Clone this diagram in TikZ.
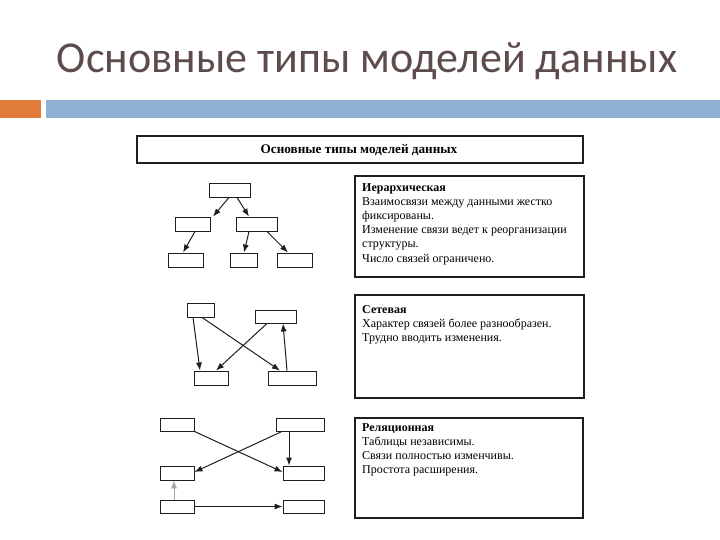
\documentclass[tikz,border=0pt]{standalone}
\usepackage{fontspec}
\setmainfont{Liberation Serif}
\newfontfamily\titlefont{Carlito}
\usetikzlibrary{arrows.meta}
\definecolor{titlecol}{HTML}{5E4B4B}
\definecolor{orangebar}{HTML}{E07B39}
\definecolor{bluebar}{HTML}{8FB0D0}
\definecolor{linecol}{HTML}{1E1E1E}
\tikzset{
  sbox/.style={draw=linecol, line width=0.9pt, inner sep=0pt, fill=white},
  frame/.style={draw=linecol, line width=1.4pt, inner sep=0pt},
  arr/.style={draw=linecol, line width=1pt, -{Latex[length=8pt,width=6pt]}},
  garr/.style={draw=gray!70, line width=0.7pt, -{Latex[length=8pt,width=6pt]}},
  desc/.style={anchor=north west, inner sep=0pt, align=left, text=black,
    font=\fontsize{12pt}{14.2pt}\selectfont},
}
\begin{document}
\begin{tikzpicture}[x=1pt,y=-1pt]
\useasboundingbox (0,0) rectangle (720,540);
\fill[white] (0,0) rectangle (720,540);
% title
\node[anchor=base, text=titlecol, inner sep=0pt] (title) at (367,73)
  {\resizebox{620pt}{!}{\titlefont Основные типы моделей данных}};
% bars
\fill[orangebar] (0,100) rectangle (41,118);
\fill[bluebar] (46,100) rectangle (720,118);
% header
\node[frame, minimum width=446pt, minimum height=27pt] (head) at (360,149.5) {};
\node[inner sep=0pt] (headtxt) at (359,150) {\fontsize{13.2pt}{15pt}\selectfont\bfseries Основные типы моделей данных};
% right frames
\node[frame, minimum width=229pt, minimum height=101pt] (f1) at (469.5,226.5) {};
\node[frame, minimum width=229pt, minimum height=103pt] (f2) at (469.5,346.5) {};
\node[frame, minimum width=228pt, minimum height=100pt] (f3) at (469,468) {};
\node[desc] (d1) at (362,183) {\textbf{Иерархическая}\\Взаимосвязи между данными жестко\\фиксированы.\\Изменение связи ведет к реорганизации\\структуры.\\Число связей ограничено.};
\node[desc] (d2) at (362,305) {\textbf{Сетевая}\\Характер связей более разнообразен.\\Трудно вводить изменения.};
\node[desc] (d3) at (362,423) {\textbf{Реляционная}\\Таблицы независимы.\\Связи полностью изменчивы.\\Простота расширения.};
% hierarchical
\node[sbox, minimum width=41pt, minimum height=14pt] (t1) at (229.5,190) {};
\node[sbox, minimum width=35pt, minimum height=14pt] (m1) at (192.5,224) {};
\node[sbox, minimum width=41pt, minimum height=14pt] (m2) at (256.5,224) {};
\node[sbox, minimum width=35pt, minimum height=14pt] (b1) at (185.5,260) {};
\node[sbox, minimum width=27pt, minimum height=14pt] (b2) at (243.5,260) {};
\node[sbox, minimum width=35pt, minimum height=14pt] (b3) at (294.5,260) {};
\draw[arr] ([xshift=-0.5pt]t1.south) -- ([xshift=20.5pt]m1.north);
\draw[arr] ([xshift=7.5pt]t1.south) -- ([xshift=-7.5pt]m2.north);
\draw[arr] ([xshift=2.5pt]m1.south) -- ([xshift=-2.5pt]b1.north);
\draw[arr] ([xshift=-7.5pt]m2.south) -- ([xshift=0.5pt]b2.north);
\draw[arr] ([xshift=10.5pt]m2.south) -- ([xshift=-6.5pt]b3.north);
% network
\node[sbox, minimum width=27pt, minimum height=14pt] (na) at (200.5,310) {};
\node[sbox, minimum width=41pt, minimum height=13pt] (nb) at (275.5,316.5) {};
\node[sbox, minimum width=34pt, minimum height=14pt] (nc) at (211,378) {};
\node[sbox, minimum width=48pt, minimum height=14pt] (nd) at (292,378) {};
\draw[arr] ([xshift=-7.5pt]na.south) -- ([xshift=-11pt]nc.north);
\draw[arr] ([xshift=1.5pt]na.south) -- ([xshift=-12pt]nd.north);
\draw[arr] ([xshift=-8.5pt]nb.south) -- ([xshift=5pt]nc.north);
\draw[arr] ([xshift=-5pt]nd.north) -- ([xshift=7.5pt]nb.south);
% relational
\node[sbox, minimum width=34pt, minimum height=13pt] (re) at (177,424.5) {};
\node[sbox, minimum width=48pt, minimum height=13pt] (rf) at (300,424.5) {};
\node[sbox, minimum width=34pt, minimum height=14pt] (rg) at (177,473) {};
\node[sbox, minimum width=41pt, minimum height=14pt] (rh) at (303.5,473) {};
\node[sbox, minimum width=34pt, minimum height=13pt] (ri) at (177,506.5) {};
\node[sbox, minimum width=41pt, minimum height=13pt] (rj) at (303.5,506.5) {};
\draw[arr] (re.south east) -- ([yshift=1pt]rh.west);
\draw[arr] ([xshift=-18pt]rf.south) -- ([yshift=1pt]rg.east);
\draw[arr] ([xshift=-11pt]rf.south) -- ([xshift=-14.5pt]rh.north);
\draw[garr] ([xshift=-3pt]ri.north) -- ([xshift=-3pt]rg.south);
\draw[arr] (ri.east) -- (rj.west);
\end{tikzpicture}
\end{document}
